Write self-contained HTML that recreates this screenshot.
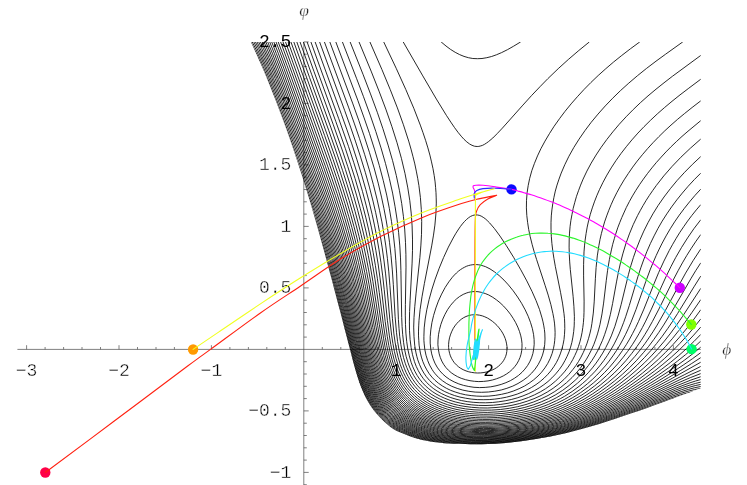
<!DOCTYPE html>
<html lang="en"><head><meta charset="utf-8"><title>plot</title><style>html,body{margin:0;padding:0;background:#fff;overflow:hidden;font-family:"Liberation Sans",sans-serif}svg{display:block;will-change:transform}</style></head><body><svg width="747" height="485" viewBox="0 0 747 485"><rect width="747" height="485" fill="#fff"/><path d="M17.4,349.4H700.8M303.8,41.9V485.0M26.6,349.4v-4.2M45.1,349.4v-2.4M63.6,349.4v-2.4M82.0,349.4v-2.4M100.5,349.4v-2.4M119.0,349.4v-4.2M137.5,349.4v-2.4M156.0,349.4v-2.4M174.4,349.4v-2.4M192.9,349.4v-2.4M211.4,349.4v-4.2M229.9,349.4v-2.4M248.4,349.4v-2.4M266.8,349.4v-2.4M285.3,349.4v-2.4M322.3,349.4v-2.4M340.8,349.4v-2.4M359.2,349.4v-2.4M377.7,349.4v-2.4M396.2,349.4v-4.2M414.7,349.4v-2.4M433.2,349.4v-2.4M451.6,349.4v-2.4M470.1,349.4v-2.4M488.6,349.4v-4.2M507.1,349.4v-2.4M525.6,349.4v-2.4M544.0,349.4v-2.4M562.5,349.4v-2.4M581.0,349.4v-4.2M599.5,349.4v-2.4M618.0,349.4v-2.4M636.4,349.4v-2.4M654.9,349.4v-2.4M673.4,349.4v-4.2M691.9,349.4v-2.4M303.8,484.7h3.0M303.8,472.4h4.9M303.8,460.1h3.0M303.8,447.8h3.0M303.8,435.5h3.0M303.8,423.2h3.0M303.8,410.9h4.9M303.8,398.6h3.0M303.8,386.3h3.0M303.8,374.0h3.0M303.8,361.7h3.0M303.8,337.1h3.0M303.8,324.8h3.0M303.8,312.5h3.0M303.8,300.2h3.0M303.8,287.9h4.9M303.8,275.6h3.0M303.8,263.3h3.0M303.8,251.0h3.0M303.8,238.7h3.0M303.8,226.4h4.9M303.8,214.1h3.0M303.8,201.8h3.0M303.8,189.5h3.0M303.8,177.2h3.0M303.8,164.9h4.9M303.8,152.6h3.0M303.8,140.3h3.0M303.8,128.0h3.0M303.8,115.7h3.0M303.8,103.4h4.9M303.8,91.1h3.0M303.8,78.8h3.0M303.8,66.5h3.0M303.8,54.2h3.0M303.8,41.9h4.9" fill="none" stroke="#4a4a4a" stroke-width="0.7"/><defs><clipPath id="cp"><path d="M250.9,41.9C253.0,46.5 259.2,60.1 263.3,69.8C267.3,79.4 271.5,89.8 275.4,99.8C279.2,109.8 283.0,119.8 286.6,129.8C290.1,139.8 293.5,149.8 296.8,159.8C300.1,169.8 303.3,179.8 306.4,189.8C309.5,199.8 312.4,209.8 315.3,219.8C318.2,229.8 320.9,239.8 323.7,249.8C326.4,259.8 329.1,269.8 331.8,279.8C334.4,289.8 337.3,300.7 339.7,309.8C342.1,319.0 344.5,328.3 346.2,334.8C347.9,341.4 348.6,343.9 350.0,349.2C351.4,354.6 352.8,360.7 354.6,367.0C356.4,373.3 358.4,380.9 360.9,387.1C363.3,393.3 366.3,399.1 369.4,404.1C372.5,409.0 375.6,412.7 379.3,416.7C383.1,420.7 387.6,425.1 391.7,428.0C395.9,430.9 400.1,432.4 404.2,434.1C408.4,435.9 412.4,437.4 416.6,438.6C420.7,439.8 423.4,440.4 429.0,441.2C434.6,442.0 442.3,443.1 449.9,443.6C457.6,444.1 466.3,444.3 475.0,444.2C483.7,444.1 492.2,444.0 502.0,443.2C511.9,442.4 523.6,440.9 534.3,439.2C545.0,437.5 555.8,435.4 566.5,432.9C577.2,430.4 587.8,427.4 598.5,424.2C609.2,421.0 620.0,417.3 630.7,413.6C641.4,410.0 651.2,406.5 662.9,402.2C674.6,398.0 694.5,390.6 700.8,388.2L700.8,41.9Z"/></clipPath></defs><path clip-path="url(#cp)" d="M474.4,314.7 471.6,314.9 468.8,315.5 466,316.5 463.6,317.7 461.2,319.3 458.8,321.4 456.8,323.5 454.9,325.9 453.1,328.7 451.6,331.8 450.4,334.9 449.5,337.9 448.9,341.1 448.6,344.3 448.6,347.5 449,350.7 449.6,353.4 450.4,355.9 451.5,358.3 452.9,360.7 454.4,362.8 456.4,364.9 458.4,366.7 460.7,368.3 463.2,369.7 466,370.9 468.8,371.8 471.6,372.4 474.4,372.8 477.6,373 480.8,372.9 484,372.5 486.8,371.9 489.2,371.2 491.7,370.3 494.2,369.1 496.4,367.8 498.4,366.3 500.2,364.7 502,362.7 503.5,360.7 504.6,358.7 505.7,356.3 506.4,353.9 506.8,351.5 507,349.1 507,346.7 506.6,343.9 506,341.1 505.2,338.5 504.1,335.9 502.7,333.1 500.9,330.3 499.1,327.9 497.1,325.5 494.8,323.3 492.4,321.3 490,319.6 487.6,318.1 484.8,316.8 482.4,315.9 479.6,315.2 476.8,314.8 474.4,314.7M470.8,291.9 468.8,292.3 466.8,292.9 463.2,294.4 459.6,296.5 456.4,299 453.2,302.2 450.4,305.6 447.6,309.6 445,314.3 442.8,319.1 440.9,324.3 439.5,329.5 438.5,334.7 438,339.9 437.9,344.7 438.4,349.5 439.2,353.9 440.3,357.5 441.8,361.1 443.6,364.3 445.9,367.5 448.4,370.2 451.2,372.7 454.1,374.7 457.6,376.7 461.2,378.3 465.6,379.7 470,380.7 474.4,381.3 478.8,381.6 483.6,381.4 488,380.9 492.4,380 496.4,378.8 499.9,377.5 503.3,375.9 506.7,373.9 509.6,371.8 512.4,369.3 514.7,366.7 516.8,363.9 518.6,360.7 520,357.5 521,354.3 521.7,350.7 522,347.1 522,343.5 521.6,339.9 520.8,335.9 519.5,331.5 517.8,327.1 515.7,322.7 513.2,318.4 510.4,314.2 507.2,310.1 503.6,306.1 500,302.7 496.4,299.8 492.8,297.3 488.8,295 485.2,293.5 481.6,292.4 478,291.7 474.4,291.5 470.8,291.9M441.1,41.9 446,46 450.4,49.3 455.2,52.3 459.6,54.6 464,56.4 468.4,57.7 472.8,58.5 477.6,58.7 482,58.5 486.8,57.7 491.6,56.5 496.4,54.8 501.6,52.6 507.6,49.6 513.6,46.2 520.7,41.9M472.8,264.7 470.4,265.1 468.4,265.6 466.4,266.3 464.4,267.3 462.4,268.4 460.4,269.7 458.4,271.2 456.4,273 454.4,275 452.4,277.2 448.8,281.9 445.2,287.4 441.6,294.1 438.4,301.1 435.9,307.9 433.6,315.4 431.9,322.7 430.8,329.9 430.2,336.7 430.2,343.1 430.8,349.2 431.7,353.9 433.1,358.7 434.9,363.1 437.1,367.1 439.7,370.7 442.6,373.9 446,376.9 449.7,379.5 454.1,381.9 458.8,383.9 463.6,385.4 468.8,386.5 474,387.3 479.6,387.6 485.2,387.4 490.8,386.8 496,385.8 501.2,384.4 505.9,382.7 510.3,380.7 514.4,378.3 518.4,375.5 522,372.3 524.9,369.1 527.6,365.5 529.7,361.9 531.5,357.9 532.9,353.5 533.7,349.1 534.2,344.3 534.1,339.5 533.6,334.7 532.4,328.7 530.6,322.7 528.2,316.3 525.2,309.9 521.6,303.3 517.6,297 513.2,290.8 508.4,284.9 504,280.1 499.2,275.6 494.4,271.8 490,268.9 485.6,266.7 483.2,265.9 481.2,265.3 478.8,264.8 476.8,264.6 474.8,264.6 472.8,264.7M403.2,41.9 422.8,75.9 436.4,99.1 446.4,115.4 450.8,122.1 454.4,127.4 458,132.3 461.2,136.2 464,139.3 466.8,141.9 469.6,144 472,145.3 474.4,146.2 476,146.4 477.2,146.5 478.8,146.4 480.8,145.9 482.4,145.4 484.4,144.4 486.4,143.1 488.4,141.7 492.8,138 497.2,133.6 502.4,128.1 522.2,105.9 531.6,95.5 540,86.7 547.8,78.7 558.2,68.7 568.3,59.5 578.8,50.5 589.4,41.9M474,215.1 472.4,215.6 470.4,216.5 468.4,217.9 466.4,219.6 464.4,221.6 462.4,223.9 460.4,226.5 458,230 455.6,233.8 453.2,238 448.4,247.1 443.6,257.5 439.2,268.2 435.2,279.1 432,289 429.1,299.5 426.8,309.7 425.2,319 424.2,327.9 423.9,336.3 423.9,340.3 424.2,343.9 424.8,349.5 426,355.2 427.6,360.3 429.6,365.1 432.1,369.5 433.6,371.8 435.2,373.8 438.6,377.5 442.4,380.7 446.8,383.7 451.8,386.3 457.2,388.4 462.8,390.1 468.8,391.3 475.2,392.1 481.6,392.3 488.4,392 494.8,391.2 501.2,390 506.9,388.3 512.8,386.1 518,383.5 523.2,380.3 527.6,377 531.6,373.2 535.1,369.1 538.1,364.7 540.6,359.9 542.5,355.1 543.9,349.9 544.7,344.7 545,339.1 544.8,333.1 544.4,329.5 543.8,325.9 543,321.9 542,317.9 539.5,309.5 536.1,300.7 532,291.4 526.8,280.9 520.8,269.8 513.6,257.3 506.4,245.7 500,236.1 494.4,228.5 489.6,222.9 487.2,220.5 485.2,218.7 483.2,217.3 481.2,216.1 479.2,215.3 477.6,215 475.6,214.9 474,215.1M383.7,41.9 396.2,68.3 405.8,89.5 413.8,108.3 420.3,125.1 423,132.7 425.7,140.7 427.9,147.9 429.9,155.1 431.5,161.9 433,168.7 434.2,175.5 435.1,181.9 435.6,187.5 436,192.7 436.2,197.9 436.3,203.1 435.9,213.9 434.9,225.1 433.5,235.1 431.7,245.9 424.4,283.4 422,296.8 420.1,309.5 419,320.3 418.7,325.9 418.5,331.1 418.5,335.9 418.8,340.7 419.1,345.1 419.7,349.1 420.4,353.1 421.4,357.1 422.8,361.5 424.7,365.9 426.8,369.9 429.2,373.7 431.9,377.1 435,380.3 438.4,383.2 442.3,385.9 446.4,388.3 450.6,390.3 455.2,392 460.4,393.6 465.6,394.8 471.2,395.6 476.8,396.1 482.4,396.3 488.8,396.1 495.2,395.4 501.6,394.3 507.6,392.9 513.2,391.1 519.1,388.7 524.4,386.1 529.2,383.1 533.6,379.9 538,376 541.6,372.2 544.9,367.9 547.7,363.5 550.1,358.7 552.1,353.5 553.5,348.3 554.2,344.7 554.7,340.7 555,336.7 555.1,332.3 554.9,327.9 554.5,323.1 553.8,318.3 552.9,313.5 550.9,304.7 548.2,295.1 545.2,285.7 536.6,259.5 534.2,251.9 532.2,244.7 530.2,236.7 528.7,229.5 527.6,222.3 526.8,215.5 526.4,207.9 526.5,200.3 527.1,192.7 528.2,185.5 529.7,178.3 531.8,170.7 534.4,163.5 537.5,155.9 540.9,148.7 545,141.1 549.5,133.5 554.1,126.3 559.5,118.7 564.9,111.5 571.1,103.9 577.4,96.7 584,89.5 590.8,82.6 598.2,75.5 605.8,68.7 613.6,62 621.7,55.5 630.4,48.8 639.8,41.9M369.9,41.9 381.9,69.5 390.2,89.5 397.4,107.9 403.4,124.7 408.7,141.1 411,149.1 413,156.7 414.8,163.9 416.3,171.1 417.7,178.3 418.9,185.5 420.4,197.5 421.3,209.5 421.7,221.5 421.5,234.3 420.9,245.1 419.9,257.5 416,293.9 414.8,306.3 414,317.5 413.7,327.1 414,336.7 414.7,345.1 415.3,349.1 416,352.9 416.8,356.3 417.8,359.9 419.6,364.7 421.6,369.1 423.9,373.1 426.4,376.7 429.4,380.3 432.7,383.5 436.4,386.5 440.4,389.2 444.8,391.6 449.6,393.7 454.4,395.5 460,397.1 465.6,398.2 471.2,399.1 477.2,399.6 483.2,399.7 489.2,399.6 494.8,399.1 500.6,398.3 506.4,397.2 512,395.7 517.2,394.1 522.4,392 527.2,389.8 531.6,387.4 536,384.6 540.2,381.5 544,378.2 547.5,374.7 550.8,370.9 553.8,366.7 556.3,362.7 558.5,358.3 560.3,353.9 561.9,349.1 563.1,344.3 564,339.5 564.5,334.3 564.8,328.7 564.7,323.1 564.5,318.7 564,313.7 562.5,303.1 560.6,292.7 555.3,266.3 553.9,258.3 552.8,251.1 551.9,243.5 551.3,236.3 551,229.1 551,222.3 551.3,215.9 551.9,209.9 552.8,203.5 553.9,197.5 555.3,191.1 557,185.1 559,179.1 561.2,173.1 564.8,164.7 568.9,156.3 573.8,147.5 579.1,139.1 584.9,130.7 591.2,122.3 598,114.1 605.3,105.9 612.6,98.3 620.4,90.7 628.8,83.1 637.6,75.6 646.4,68.5 656,61.2 665.6,54.2 682.8,41.9M359,41.9 371.1,71.1 379,91.1 385.8,109.1 391.8,126.3 397,142.7 401.4,158.3 405,173.5 407.8,187.9 409.8,200.7 411.2,213.1 412.1,225.9 412.5,239.1 412.5,250.7 412.1,263.1 410.1,300.3 409.6,311.5 409.4,321.9 409.5,330.7 410.1,339.5 411.1,347.5 412.5,354.7 414.4,361.5 416.2,366.3 418.3,370.7 420.8,375 423.4,378.7 426.5,382.3 429.7,385.5 433.2,388.4 437.2,391.1 441.4,393.5 446,395.7 450.8,397.6 456,399.2 461.6,400.6 467.2,401.6 473.2,402.3 479.2,402.7 485.6,402.8 492.4,402.5 498.8,401.8 505.2,400.8 511.3,399.5 517.2,397.9 523,395.9 528.8,393.5 534.4,390.7 539.2,387.9 543.9,384.7 548,381.5 551.9,377.9 555.7,373.9 559.3,369.5 562.4,365.1 564.9,360.7 567.1,356.3 569,351.9 570.6,347.1 571.9,342.3 572.9,337.1 573.7,331.5 574.2,325.9 574.3,321.5 574.4,316.7 573.9,306.3 573.1,296.3 570.3,269.5 569.7,261.9 569.3,254.7 569.1,247.1 569.2,239.9 569.5,233.1 570.1,226.3 570.9,220.3 572,214.3 573.2,208.3 574.8,202.3 576.5,196.3 578.5,190.7 580.6,185.1 583.1,179.1 586.9,171.1 591.2,163.1 596,155.1 601,147.5 606.8,139.5 612.8,131.9 619.2,124.3 626.2,116.7 633.2,109.6 640.4,102.7 648,95.9 656,89.2 664,82.8 672.4,76.3 700.8,55.4M350.1,41.9 363,74.3 370.5,93.9 377.3,112.3 382.9,128.7 388.1,145.1 392.6,160.7 396.3,175.5 399.4,190.3 401.7,203.5 403.4,216.3 404.7,229.1 405.5,242.7 405.9,254.3 406,267.1 405.4,304.3 405.3,315.1 405.5,324.7 405.9,333.1 406.7,341.5 407.8,349.1 409.3,355.9 411.1,362.3 412.8,366.8 414.8,371.2 417.2,375.5 419.6,379.1 422.4,382.6 425.5,385.9 428.8,388.8 432.3,391.5 436,393.9 440.4,396.3 444.8,398.3 450,400.3 455.2,401.9 460.3,403.1 465.6,404.1 471.2,404.8 478.4,405.4 486,405.5 493.6,405.2 500.8,404.4 508,403.3 515.2,401.7 521.6,399.9 528.4,397.5 534.4,394.9 540.3,391.9 545.6,388.7 550.8,385 555.5,381.1 560.1,376.7 564.4,371.9 568.1,367.1 570.5,363.5 572.8,359.5 574.8,355.5 576.8,351.1 578.4,346.7 579.9,341.9 581.1,337.1 582.1,332.3 582.8,327.5 583.4,322.7 583.8,317.5 584,312.3 584.1,301.1 583.6,275.9 583.6,264.3 584,251.9 584.5,245.9 585.1,240.3 586.1,233.5 587.2,227.1 588.6,220.7 590.3,214.3 592.3,207.9 594.4,201.9 596.8,195.7 599.5,189.5 603,182.3 606.9,175.1 611.2,167.9 615.9,160.7 621,153.5 626.3,146.7 631.9,139.9 637.9,133.1 644,126.7 650.5,120.3 657.3,113.9 664.6,107.5 672,101.3 680,94.9 688.8,88.2 700.8,79.2M342.4,41.9 356.5,78.3 363.5,96.7 370.2,115.1 375.8,131.5 381,147.9 385.5,163.5 389.4,178.7 392.6,193.1 395,206.3 397,219.1 398.6,232.3 399.8,245.9 400.5,257.9 400.9,270.3 401.7,317.5 402.1,326.7 402.7,334.7 403.6,342.7 404.7,349.9 406.2,356.7 408,362.7 409.6,367.1 411.6,371.5 413.7,375.5 416,379.1 418.4,382.4 421.2,385.7 424.3,388.7 427.6,391.5 431.2,394.2 435.2,396.6 439.2,398.7 443.6,400.7 448.4,402.5 453.2,404 458.4,405.3 464,406.3 471.6,407.3 479.6,407.9 487.6,408 496,407.5 504,406.7 512,405.3 519.7,403.5 527.2,401.2 534,398.7 541,395.5 547.2,392.1 553.1,388.3 558.8,384 563.9,379.5 568.6,374.7 572.9,369.5 575.9,365.5 578.5,361.5 581,357.1 583.2,352.7 585.3,347.9 587.1,343.1 588.6,338.3 590,333.1 591.1,328.3 591.9,323.5 593.3,313.1 594.2,301.9 595.4,278.3 596.1,267.5 597.3,255.9 598.9,245.5 600,239.5 601.4,233.5 603,227.5 604.6,221.9 606.7,215.9 608.8,210.3 611.1,204.7 613.6,199.1 616.8,192.7 620.3,186.3 624.1,179.9 628.3,173.5 632.7,167.1 637.2,161.1 642.4,154.7 647.6,148.6 653,142.7 658.8,136.7 664.8,130.8 671,125.1 677.6,119.3 684.6,113.5 692.1,107.5 700.8,100.8M335.8,41.9 357.8,100.3 364.1,117.9 369.5,133.5 374.7,149.9 379.3,165.5 383.3,180.7 386.7,195.1 389.3,208.3 391.5,221.5 393.4,235.1 394.9,248.7 395.8,260.3 396.6,273.1 398.4,319.5 399,328.3 399.7,336.3 400.8,344.3 402,351.1 403.5,357.5 405.2,363.2 406.8,367.6 408.7,371.9 410.7,375.9 412.8,379.4 415.1,382.7 417.7,385.9 420.8,389.1 423.9,391.9 427.2,394.5 430.8,397 434.5,399.1 438.8,401.3 443.1,403.1 447.6,404.7 452.8,406.3 457.8,407.5 465.6,408.9 474,409.8 482.8,410.2 491.6,410.1 500.4,409.5 509.3,408.3 517.6,406.7 526,404.5 533.8,401.9 541.2,398.8 548,395.5 554.8,391.5 560.8,387.3 566.5,382.7 572.1,377.5 577.2,371.9 580.5,367.9 583.6,363.5 586.5,359.1 589.2,354.3 591.6,349.5 593.9,344.3 595.8,339.1 597.5,333.9 598.8,329.1 600,324.3 602,313.9 603.6,303.1 606.3,280.3 607.6,270.3 609.4,259.5 611.4,249.9 612.7,244.3 614.3,238.7 616,233.1 617.7,227.9 619.7,222.7 621.8,217.5 626.3,207.5 629.4,201.5 632.5,195.9 635.9,190.3 639.5,184.7 643.4,179.1 647.5,173.5 651.9,167.9 656.2,162.7 661.2,157.1 666,151.9 671.1,146.7 676.4,141.6 682,136.4 688,131.2 700.8,120.6M329.8,41.9 352.6,103.1 358.9,120.7 364.1,135.9 369.4,152.3 374.1,167.9 378.2,183.1 381.5,197.1 383.9,208.3 386.1,219.9 387.9,230.7 389.5,242.3 391,255.5 392.3,269.9 393.3,284.3 395.1,316.7 396.5,332.7 397.6,341.6 399,349.9 400.8,357.5 402.7,363.9 404.3,368.3 406,372.3 408,376.3 410,379.7 412.3,383.1 414.8,386.3 417.6,389.5 420.4,392.2 423.4,394.7 426.8,397.2 430.4,399.5 434.4,401.7 438.4,403.6 442.8,405.4 447.2,406.9 452,408.3 456,409.3 460.4,410.2 469.2,411.5 478.4,412.2 487.6,412.4 497.2,411.9 506.4,411 515.6,409.5 524.8,407.4 533.2,404.9 541.2,401.9 548.4,398.7 555.8,394.7 562.7,390.3 569.1,385.5 575.1,380.3 578,377.5 581.1,374.3 584.9,369.9 588.4,365.5 591.8,360.7 594.8,355.9 597.5,351.1 600,345.9 602.5,340.3 604.6,334.7 606.2,329.9 607.7,325.1 610.4,314.3 612.6,303.5 616.5,281.9 618.3,272.7 620.5,262.7 622.8,253.9 625.8,243.9 629.4,233.9 633.2,224.7 637.6,215.5 640.4,210.3 643.1,205.5 646.2,200.3 649.3,195.5 652.8,190.4 656.3,185.5 663.8,175.9 672,166.5 680.8,157.3 690.4,148.2 700.8,139.0M324.4,41.9 348.5,107.1 354.2,123.1 359.4,138.3 364.6,154.3 369.3,169.9 373.4,184.7 377,199.1 379.5,210.3 381.9,221.9 383.9,233.5 385.7,245.1 387.4,258.3 388.8,271.9 389.9,285.5 392.4,318.3 393.9,333.9 395.2,342.9 396.6,350.7 398.3,357.9 400.2,364.3 401.8,368.7 403.5,372.7 405.3,376.3 407.3,379.9 409.6,383.5 412,386.7 414.4,389.5 417.2,392.4 420.3,395.1 423.3,397.5 426.8,399.9 430.4,402 434,403.9 438.3,405.9 442.4,407.5 447.2,409.1 451.5,410.3 455.6,411.3 460,412.2 464.4,412.9 469.2,413.5 474,413.9 483.6,414.3 493.6,414.1 504,413.3 514,411.9 523.6,410 532.8,407.5 541.1,404.7 548.8,401.5 553,399.5 556.8,397.5 564.2,393.1 571.1,388.3 577.6,383.1 580.7,380.3 584.1,377.1 588.3,372.7 592.4,367.9 596.1,363.1 599.4,358.3 602.7,353.1 605.8,347.5 608.6,341.9 611.3,335.9 613.1,331.1 614.9,326.3 618.3,315.1 621.2,304.3 628.4,274.7 630.8,265.9 633.4,257.5 636.6,248.3 640.1,239.5 643.8,231.1 648,222.7 652.9,213.9 658.1,205.5 664,197 670.4,188.6 677.2,180.4 684.6,172.3 692.4,164.4 700.8,156.5M319.6,41.9 344.6,110.3 350.6,127.1 355.4,141.1 360.6,157.1 365.4,172.7 369.4,187.1 373,201.1 375.7,212.7 378.1,224.3 380.2,235.5 382.1,247.1 383.9,259.9 385.6,273.9 387,287.9 389.8,319.1 391.6,335.1 392.9,343.5 394.4,351.5 396,358.3 398,364.9 399.5,369.1 401.2,373.1 402.9,376.7 404.9,380.3 406.9,383.5 409.2,386.7 411.8,389.9 414.4,392.7 417.4,395.5 420.4,398 423.6,400.3 427.2,402.6 430.8,404.6 434.4,406.4 438.4,408.1 442.8,409.7 447.1,411.1 451.2,412.2 455.6,413.2 460,414.1 464.8,414.8 469.6,415.4 479.6,416 490,416.1 495.2,415.9 500.8,415.5 511.2,414.3 521.2,412.6 530.8,410.4 539.6,407.7 544,406.1 548.4,404.4 556.4,400.7 560.3,398.7 564.6,396.3 572.1,391.5 579.1,386.3 582.5,383.5 586.2,380.3 590.7,375.9 595.3,371.1 599.7,365.9 603.7,360.7 607.3,355.5 610.8,349.9 614.2,343.9 617.2,337.9 619.4,333.1 621.5,327.9 623.7,322.3 625.8,316.3 629.3,305.5 638,276.3 640.8,267.8 643.6,260 646.9,251.5 650.4,243.5 654.1,235.9 658,228.4 662.2,221.1 666.8,213.9 671.6,206.9 676.8,199.9 682.3,193.1 688.1,186.3 694.4,179.5 700.8,173.1M315.1,41.9 341.4,114.3 347,129.9 351.8,143.9 357,159.9 361.7,175.1 365.8,189.5 369.4,203.1 372.2,214.7 374.6,225.9 376.9,237.5 378.9,249.1 380.9,262.3 382.7,275.9 384.2,289.5 387.4,320.3 389.4,335.9 390.8,344.7 392.3,352.3 394,359.1 395.9,365.5 397.5,369.9 399.2,373.9 400.9,377.5 402.8,380.9 404.9,384.3 407.2,387.5 409.4,390.3 411.9,393.1 414.8,395.9 417.5,398.3 420.7,400.7 424,402.9 427.6,405.1 431.2,407 434.9,408.7 438.8,410.3 442.8,411.7 447.2,413 451.6,414.1 456,415.1 460.8,416 465.6,416.6 470.4,417.2 475.6,417.6 480.8,417.8 486.4,417.9 497.4,417.5 508.4,416.5 513.6,415.8 519.2,414.9 529.2,412.8 538.3,410.3 543.3,408.7 547.7,407.1 556.3,403.5 564.3,399.5 568.5,397.1 572.5,394.7 580.1,389.5 583.8,386.7 587.7,383.5 592.3,379.5 596.8,375.1 601,370.7 605.3,365.9 609.1,361.1 612.9,355.9 616.4,350.7 619.8,345.1 622.7,339.9 625.6,334.3 628.4,328.3 631,322.3 636,309.5 645.8,281.5 650.4,269.1 653.4,261.9 656.2,255.5 659.2,249.1 662.2,243.1 666.1,235.9 670.3,228.7 674.6,221.9 679.3,215.1 684.4,208.3 689.5,201.9 694.9,195.5 700.8,189.1M310.9,41.9 319.2,65 338.6,118.3 348.6,146.7 353.8,162.7 358.3,177.1 362.5,191.5 366.1,205.1 369,216.7 371.5,227.9 373.8,239.1 375.9,250.7 378.1,263.9 379.9,277.1 381.7,291.1 385.2,321.5 387.3,336.7 388.8,345.5 390.3,352.7 392,359.5 393.9,365.9 395.4,369.9 396.8,373.5 398.5,377.1 400.4,380.8 402.4,384.1 404.4,387.1 406.8,390.3 409.2,393.1 411.9,395.9 414.5,398.3 417.6,400.8 420.8,403.1 424,405.1 427.4,407.1 431.2,409 434.8,410.6 438.8,412.1 442.8,413.5 447.2,414.8 452,416 456.8,417 461.6,417.8 466.4,418.4 471.6,418.9 476.8,419.2 482.4,419.4 488,419.4 493.6,419.3 499.2,419 505.2,418.5 510.8,417.9 516.4,417.1 526.8,415.2 536.8,412.8 546,409.9 550.4,408.3 555.2,406.4 560,404.3 564.1,402.3 572.2,397.9 576.2,395.5 580.5,392.7 588.2,387.1 593.7,382.7 599.1,377.9 604.4,372.7 609.3,367.5 614,361.9 618.4,356.3 622.6,350.3 626.5,344.3 629.6,339.1 632.6,333.5 635.7,327.5 638.5,321.5 643.9,309.1 654,283.8 658.6,272.7 663.9,261.1 669.2,250.6 672.7,244.3 676.2,238.3 679.9,232.3 683.7,226.7 687.6,221.1 691.8,215.5 696.3,209.9 700.8,204.6M307.1,41.9 316.4,68 335.8,121.5 345.4,148.7 350.5,164.3 355.1,178.7 359.3,193.1 363,206.7 365.9,217.9 368.7,229.9 371,241.1 373.2,252.7 375.4,265.5 377.4,278.7 379.3,292.7 383.2,323.1 385.3,337.5 386.8,345.7 388.4,353.2 390.1,359.9 392.1,366.3 393.6,370.6 395.1,374.3 396.8,378 398.6,381.5 400.5,384.7 402.6,387.9 404.8,390.8 407,393.5 409.6,396.2 412,398.5 414.8,400.9 417.6,403.1 420.8,405.3 424,407.2 427.5,409.1 431.2,410.9 435.2,412.6 439.2,414.1 443.6,415.5 448.1,416.7 452.8,417.8 457.5,418.7 462.7,419.5 467.6,420.1 472.8,420.5 478.4,420.8 489.6,420.9 495.6,420.7 501.2,420.4 507,419.9 512.8,419.2 523.2,417.6 533.3,415.5 538.4,414.2 543.5,412.7 552.9,409.5 557.9,407.5 562.5,405.5 566.8,403.5 571.4,401.1 579.7,396.3 584.1,393.5 588.2,390.7 594.6,385.9 600.4,381.1 606.6,375.5 612.2,369.9 617.7,363.9 622.7,357.9 627.6,351.5 632.3,344.7 635.8,339.1 639.1,333.5 642.4,327.5 645.7,321.1 651.4,309.1 661.8,285.9 666.2,276.3 671.1,266.3 675.7,257.5 681.5,247.5 687.6,237.9 693.9,228.7 700.8,219.7M303.4,41.9 314,71.5 333.3,124.7 342.6,151.1 347.8,166.7 352.2,180.7 356.5,195.1 360.2,208.3 363.1,219.5 365.9,231.1 368.3,242.3 370.6,253.9 372.9,266.7 375.1,279.9 381.2,323.7 383.6,338.7 385.1,347.1 386.7,354.3 388.4,360.7 390.4,367.1 393.3,374.7 394.9,378.3 396.8,381.9 398.6,385.1 400.4,387.9 402.4,390.7 404.8,393.6 407.2,396.3 409.6,398.7 412.3,401.1 415.2,403.4 418.1,405.5 421.2,407.5 424.7,409.5 428,411.2 432,413 436.2,414.7 440.4,416.1 444.8,417.4 449.2,418.6 453.6,419.5 458.4,420.4 463.6,421.1 468.8,421.7 474.4,422.1 480,422.3 485.6,422.4 497.2,422.1 508.8,421.2 519.6,419.8 530.4,417.8 540.8,415.3 550.6,412.3 555.2,410.6 560.2,408.7 569.1,404.7 573.9,402.3 578.3,399.9 586.9,394.7 593.9,389.9 600.8,384.7 607.5,379.1 614.1,373.1 620.4,366.7 626.2,360.3 631.7,353.5 637.1,346.3 641,340.7 644.8,334.7 648.6,328.3 652.4,321.5 658.9,309.1 673.7,279.1 678.1,270.7 682.4,262.9 686.8,255.4 691.3,248.3 696,241.2 700.8,234.5M300,41.9 311.6,74.3 331,127.9 340.1,153.9 345.4,169.5 349.8,183.5 353.8,196.7 357.7,210.3 360.6,221.5 363.4,233.1 365.9,243.9 368.3,255.5 370.6,267.9 372.9,281.5 379.3,324.3 381.8,339.5 383.5,347.9 385.1,355.1 386.8,361.5 388.7,367.5 391.6,375.1 393.2,378.6 394.8,381.9 396.6,385.1 398.6,388.3 400.6,391.1 402.8,393.9 405.2,396.7 407.6,399.1 410.2,401.5 412.8,403.7 415.8,405.9 418.7,407.9 422,409.9 425,411.5 428.8,413.3 432.8,415 436.8,416.5 441,417.9 445.2,419.1 450,420.2 454.8,421.2 459.6,422 464.8,422.7 470,423.2 480.8,423.7 492.4,423.7 504,423 515.2,421.9 526.4,420.1 536.9,417.9 547.4,415.1 557,411.9 562.2,409.9 566.9,407.9 576.2,403.5 584.9,398.7 592.6,393.9 600.1,388.7 607.9,382.7 615,376.7 621.9,370.3 628.5,363.5 635,356.3 640.8,349.1 645,343.5 648.9,337.9 652.9,331.9 657.1,325.1 664.6,311.9 679,285.1 685.6,273.1 693.2,260.5 700.8,248.9M296.8,41.9 309.6,77.6 328.7,130.3 337.4,155.1 342.5,170.3 347,184.3 351.3,198.3 355.1,211.5 358.2,223.1 361,234.3 363.7,245.9 366.1,257.1 368.6,269.9 370.9,283.1 377.6,325.4 380.1,339.9 381.8,348.3 383.5,355.5 385.2,361.9 387.1,367.9 390,375.5 393.2,382.3 395,385.5 396.8,388.5 398.8,391.4 400.8,394.1 403,396.7 405.3,399.1 407.7,401.5 410.4,403.8 413.1,405.9 415.9,407.9 419,409.9 422,411.6 425.6,413.5 429.2,415.2 433.2,416.8 437.5,418.3 441.6,419.6 446,420.8 450.8,421.8 455.4,422.7 465.2,424 470.4,424.5 476,424.8 487.2,425 498.8,424.7 510.4,423.7 521.7,422.3 532.8,420.3 543.2,417.9 552.8,415.1 557.6,413.5 562.9,411.5 572.4,407.5 577.4,405.1 582.1,402.7 590.6,397.9 598.8,392.7 606.7,387.1 614.4,381.1 622.4,374.3 629.7,367.5 636.7,360.3 643.4,352.7 648.7,346.3 653.8,339.5 658.6,332.7 663.6,325.1 671.9,311.5 690.8,278.8 695.7,270.7 700.8,262.8M293.8,41.9 326.6,133.1 335.4,157.9 340.5,173.1 345,187.1 349.1,200.3 352.9,213.5 356.1,225.1 359,236.3 361.7,247.9 364.1,259.1 366.6,271.5 369,284.3 376,326.5 378.6,340.7 380.2,348.7 381.9,355.9 383.7,362.3 385.6,368.3 388.5,375.9 391.6,382.6 395.1,388.7 396.9,391.5 399,394.3 403.2,399.2 405.6,401.6 408.1,403.9 410.8,406.1 413.6,408.2 419.4,411.9 422.8,413.7 426.4,415.5 430.1,417.1 434.3,418.7 438.4,420.1 442.8,421.3 447.2,422.4 451.6,423.4 456.4,424.2 461.2,424.9 471.6,425.8 482.4,426.3 493.6,426.1 505.2,425.5 516.8,424.3 528,422.6 539.3,420.3 550,417.5 560,414.3 569.4,410.7 579.2,406.3 587.8,401.9 596.1,397.1 604.8,391.5 613.2,385.5 621.4,379.1 629.4,372.3 637.1,365.1 644.5,357.5 650.7,350.7 656.6,343.5 662.2,336.3 667.9,328.3 672.5,321.5 677.6,313.5 694,286.8 700.8,276.0M290.9,41.9 324.6,135.5 333.1,159.5 338.2,174.7 342.7,188.3 346.9,201.9 350.7,214.7 353.9,226.3 356.9,237.9 359.7,249.5 362.2,260.3 364.7,272.3 367.1,285.1 374.4,327.2 377.2,341.9 378.8,349.4 380.5,356.3 382.2,362.7 384.1,368.7 386.8,375.9 390,382.8 393.5,389.1 395.4,391.9 397.4,394.7 401.6,399.7 404,402.2 406.3,404.3 408.8,406.4 411.6,408.5 417.2,412.2 420.4,414.1 424,415.9 427.6,417.5 431.6,419.1 436,420.7 439.9,421.9 448.4,424 457.6,425.6 467.2,426.7 477.6,427.3 488.8,427.4 500.4,427 512.4,426 524,424.5 535.2,422.5 546,420 556.3,417.1 565.7,413.9 575.6,409.9 584.2,405.9 593.3,401.1 602.1,395.9 611.3,389.9 619.7,383.9 628.4,377.1 636.8,369.9 644.6,362.7 651.3,355.9 657.9,348.7 664.4,341.1 670.7,333.1 676.5,325.1 682.6,316.3 700.8,288.3M288.1,41.9 322.2,136.3 331.1,161.5 336.1,176.3 340.6,189.9 344.9,203.5 348.7,216.3 351.9,227.5 354.9,239.1 357.7,250.3 360.2,261.1 362.9,273.9 365.4,286.3 372.8,327.5 375.6,341.9 377.4,349.9 379.2,357.1 380.9,363.5 382.8,369.3 385.6,376.7 388.5,383.1 391.8,389.1 395.6,394.7 399.6,399.7 404.2,404.3 409.2,408.5 414.8,412.4 418,414.3 421.6,416.2 425.1,417.9 428.8,419.5 432.8,421 436.8,422.3 444.8,424.5 453.6,426.2 463,427.5 473.2,428.3 483.6,428.6 495.2,428.4 507.2,427.6 519.2,426.3 530.4,424.7 541.2,422.5 551.7,419.9 562.2,416.7 572,413.1 581.4,409.1 590.5,404.7 599.4,399.9 608.7,394.3 617.8,388.3 626.7,381.9 635.4,375.1 643.9,367.9 651.3,361.1 658.6,353.9 665.7,346.3 672.3,338.7 678.7,330.7 685,322.3 691.8,312.7 700.8,299.6M285.5,41.9 320.1,137.9 329.1,163.1 334.2,177.9 338.7,191.5 343,205.1 346.7,217.5 349.9,228.7 353,240.3 355.9,251.5 358.5,262.7 361.3,275.5 363.8,287.9 371.6,329.4 374.4,343.1 376.1,350.7 377.9,357.9 379.6,363.9 381.5,369.9 384.3,377.1 387.2,383.6 390.4,389.5 394.1,395.1 398,400 402.6,404.7 407.6,409 412.8,412.7 416,414.7 419.2,416.5 422.8,418.3 426.4,419.9 433.9,422.7 442,425 450.4,426.9 459.6,428.3 469.2,429.2 479.2,429.6 490.8,429.6 502.8,429 515.2,427.9 526.8,426.4 538.4,424.3 548.8,422 559.1,419.1 568.7,415.9 578,412.3 587,408.3 595.9,403.9 605.3,398.7 614.6,393.1 624.2,386.7 633.7,379.9 642.5,373.1 650.6,366.3 658.2,359.5 665.6,352.3 672.9,344.7 679.6,337.1 686.2,329.1 693.1,320.3 700.8,309.7M283,41.9 290.6,62.7 327.3,165.1 337,193.5 341.1,206.3 345,219.1 348.2,230.3 351.4,241.9 354.2,253.1 356.9,264.3 359.7,276.7 362.2,288.7 370,329.1 373.1,343.9 374.8,351.2 376.6,358.3 378.4,364.5 380.3,370.3 383,377.5 386,384.2 389.2,390.1 392.8,395.6 396.8,400.6 401.2,405.3 406,409.5 411.2,413.2 414.1,415.1 417.6,417.1 424.2,420.3 431.4,423.1 439.2,425.5 447.6,427.5 456,428.9 465.2,429.9 475.2,430.5 486.4,430.7 498.2,430.3 510,429.5 522,428.1 533.6,426.4 544,424.3 554.4,421.7 564.6,418.7 573.8,415.5 582.8,411.9 591.6,407.9 601.1,403.1 610.5,397.9 620.4,391.9 630.1,385.5 639.1,379.1 648.1,372.3 656.5,365.5 664.7,358.3 672.4,351.1 679.8,343.5 686.8,335.9 693.6,327.9 700.8,318.9M280.6,41.9 289,64.7 325.4,166.3 335.4,195.5 339.5,208.3 343.3,220.7 346.6,231.9 349.8,243.5 352.6,254.3 355.4,265.5 358.1,277.5 360.7,289.5 368.8,330.1 371.9,344.7 373.7,352.3 375.6,359.5 377.3,365.5 379.2,371.1 381.9,378.3 384.8,384.7 388.1,390.7 391.7,396.3 395.6,401.3 400,405.9 404.5,409.9 409.6,413.7 415.6,417.4 422.2,420.7 429.2,423.6 436.8,426 444.8,428 453.2,429.6 462.2,430.7 471.6,431.4 482.8,431.7 494.4,431.4 506.8,430.7 518.4,429.6 529.6,428.1 540.4,426.2 550.7,423.9 561.2,421.1 570.8,418 579.6,414.7 588.3,411.1 597.7,406.7 607,401.9 616.3,396.7 626.2,390.7 636,384.3 645.2,377.9 654.4,371.1 662.9,364.3 671.4,357.1 679.3,349.9 686.6,342.7 693.7,335.1 700.8,327.0M278.2,41.9 287,65.5 323.8,167.9 333.8,197.1 337.9,209.9 341.7,222.3 348.2,244.7 353.8,266.3 356.6,278.3 359.4,291.1 367.6,331.1 370.7,345.5 372.6,353.1 374.4,359.9 376.2,365.9 378,371.5 380.7,378.7 383.6,385.1 386.8,391.1 390.4,396.6 394.1,401.5 398.4,406.1 403,410.3 408,414.1 414,417.9 420.4,421.2 427.6,424.2 434.8,426.6 442.7,428.7 450.8,430.3 459.6,431.4 468.8,432.2 479.6,432.6 490.8,432.5 502.8,431.9 514.8,430.9 526.4,429.5 536.8,427.9 547.6,425.7 558.2,423.1 567.6,420.3 576,417.5 585.2,413.9 594.5,409.9 603.6,405.5 612.8,400.7 622.1,395.5 632,389.5 642,383.1 651.9,376.3 661.3,369.5 670.6,362.3 678.8,355.5 686.4,348.7 693.9,341.5 700.8,334.4M276,41.9 280.3,53.1 285.4,67.1 322.2,169.5 332.2,198.7 340.2,223.5 346.6,245.5 352.2,267.1 355,278.7 357.9,291.5 366.4,331.8 369.6,346.1 373.2,360.1 375,366.3 376.9,371.9 379.6,379.1 382.7,385.9 385.9,391.9 389.2,397.1 393.2,402.3 397.2,406.7 401.6,410.7 406.8,414.7 412.4,418.3 418.8,421.7 425.6,424.6 432.8,427.2 440.4,429.2 448.4,430.9 456.8,432.1 465.6,433 476,433.4 487.2,433.5 498.8,433.1 510.8,432.2 522,431.1 533.2,429.5 544.1,427.5 554.8,425.1 563.6,422.7 572.6,419.9 581.6,416.7 589.7,413.5 598.8,409.5 607.9,405.1 617.1,400.3 627.1,394.7 637.2,388.7 648,381.9 658.3,375.1 668.5,367.9 677.5,361.1 685.5,354.7 693.4,347.9 700.8,341.0M273.8,41.9 278.2,53.1 283.8,68.3 320.6,170.7 330.6,199.9 338.6,224.7 345.1,246.7 351,268.7 356.7,292.7 365.2,332.3 368.4,346.3 372.1,360.7 374,366.9 375.9,372.7 378.7,379.9 381.6,386.4 384.8,392.4 388.3,397.9 392,402.7 396,407.1 400.4,411.2 405.3,415.1 410.8,418.7 417.2,422.2 423.8,425.1 430.8,427.6 438.4,429.8 446.2,431.5 454.4,432.8 463.2,433.7 473.6,434.3 484.4,434.4 496,434.1 508,433.3 519.6,432.2 531.2,430.7 542,428.9 552.3,426.7 560.4,424.7 568.8,422.3 577.4,419.5 586.1,416.3 594.9,412.7 603.8,408.7 612.9,404.3 622.1,399.5 632.9,393.5 643.9,387.1 654.9,380.3 666,373.1 675.9,366.3 684.8,359.9 693.1,353.5 700.8,347.1M271.7,41.9 276.3,53.5 281.8,68.3 318.6,170.7 329,200.7 337.1,225.5 343.7,247.9 349.5,269.1 352.6,281.5 355.4,293.5 364.4,334.3 367.5,347.5 371.2,361.5 373,367.5 374.9,373.1 377.6,380.3 380.7,387.1 383.9,393.1 387.2,398.3 390.8,403.1 394.8,407.6 399.2,411.7 404,415.5 409.6,419.3 415.8,422.7 422.4,425.7 429.2,428.2 436.4,430.3 444,432.1 452.4,433.5 460.8,434.4 470.8,435 481.6,435.2 492.8,435 504.8,434.4 516.4,433.4 528,432 539.2,430.3 549.5,428.3 558.1,426.3 566.8,424 574.8,421.5 583,418.7 591.4,415.5 600,411.9 607.9,408.3 617,403.9 627.8,398.3 638.8,392.3 650.6,385.5 662,378.7 672.8,371.9 683.2,365.1 692.5,358.7 700.8,352.6M269.7,41.9 274.5,53.9 280.2,69.1 317,171.5 327.4,201.5 335.8,227.1 342.3,248.7 348.3,270.3 354.3,294.7 363.2,334.3 366.4,347.8 370.3,362.3 372,367.9 374,373.8 376.8,381.1 379.7,387.5 382.9,393.5 386.4,399.1 390,403.9 394,408.4 398.4,412.5 403.2,416.3 408.6,419.9 414.4,423.2 420.8,426.1 427.6,428.7 434.8,430.9 442.3,432.7 450.4,434.1 458.7,435.1 468,435.8 478.4,436.1 489.6,435.9 501.2,435.4 512.8,434.6 524.4,433.3 535.2,431.8 546.1,429.9 555.2,428 563.2,426 571.2,423.7 579.2,421.2 587.3,418.3 595.5,415.1 604,411.5 612,407.9 621.9,403.1 632.1,397.9 643.3,391.9 655.5,385.1 668.7,377.5 680.8,370.3 691.7,363.5 700.8,357.6M267.7,41.9 272.6,53.9 278.6,69.9 315.4,172.3 326.2,203.1 334.5,228.3 341.1,249.9 347.1,271.5 353.1,295.5 362.4,335.9 365.6,349.1 369.4,363.1 371.2,368.8 373.2,374.7 376,381.9 378.9,388.3 382,394.2 385.4,399.5 388.9,404.3 392.8,408.7 397.2,412.9 401.9,416.7 407.2,420.3 413.2,423.7 419.5,426.7 426.4,429.4 433.3,431.5 440.8,433.3 448.4,434.7 456.8,435.8 466.4,436.5 476.4,436.8 487.2,436.8 498.8,436.3 510.8,435.5 522,434.4 532.8,433 543.6,431.2 551.6,429.6 559.3,427.9 567,425.9 575.2,423.5 582.6,421.1 590.4,418.3 598.6,415.1 607.1,411.5 615.1,407.9 624.3,403.5 634,398.7 644.8,393.1 672.2,378.3 700.8,362.2M265.8,41.9 268.9,49.1 272.2,57.5 280.6,80.3 296,123.4 319.8,189.5 327.1,210.7 333.4,229.9 340.1,251.9 346.1,273.1 352.2,297.1 361.2,335.6 364.6,349.5 368.4,363.3 370.3,369.5 372.3,375.1 375,382.3 378,388.8 381.1,394.7 384.4,400 388,404.9 392,409.4 396.2,413.5 400.8,417.2 406,420.8 412,424.2 418,427.1 424.8,429.8 431.6,432 439.2,433.9 446.4,435.3 454.4,436.4 463.2,437.1 473.2,437.6 483.6,437.6 494.8,437.3 506.4,436.6 518.4,435.6 529.2,434.3 540.4,432.6 548.6,431.1 556.2,429.5 564.5,427.5 571.8,425.5 579.7,423.1 587.9,420.3 595.5,417.5 603.5,414.3 618.2,407.9 634.9,399.9 649.3,392.7 684.8,374.5 700.8,366.4M264,41.9 267.1,49.1 270.6,57.9 278.6,79.5 295.6,127.1 318.6,191.1 325.8,211.9 332.2,231.1 339,253.1 345,274.3 351,297.5 360.4,336.9 363.7,349.9 367.6,364.1 369.6,370.4 371.5,375.9 374.3,383.1 377.2,389.5 380.4,395.5 383.6,400.7 387.2,405.5 391.2,410.1 395.6,414.3 400,417.9 405.2,421.5 410.8,424.7 417.2,427.8 423.6,430.4 430.4,432.6 437.6,434.5 445.2,435.9 453.2,437.1 462,437.9 471.6,438.3 482,438.4 492.8,438.1 504,437.5 516,436.5 527.6,435.2 538.4,433.7 546.5,432.3 554.5,430.7 561.5,429.1 569.3,427.1 576.3,425.1 583.9,422.7 592,419.9 599.4,417.1 612.1,411.9 626.4,405.5 640.8,398.7 680,379.6 691.2,374.4 700.8,370.2M262.2,41.9 265.3,49.1 268.6,57.1 272.3,66.7 276.6,78.3 295.2,130.7 318.1,194.3 324.9,213.9 330.9,231.9 337.8,253.9 343.8,274.7 350.2,299.1 359.6,338 362.8,350.6 366.8,364.8 368.8,371.1 370.6,376.3 373.4,383.5 376.4,390.1 379.5,395.9 382.7,401.1 386.2,405.9 390,410.3 394,414.3 398.8,418.3 404,421.9 409.6,425.2 415.9,428.3 422.4,430.9 429.2,433.2 436.4,435.1 443.6,436.5 451.2,437.6 460,438.5 469.2,439 479.2,439.1 490,438.9 501.6,438.3 513.2,437.5 524.7,436.3 536,434.8 544.1,433.5 551.6,432.1 559.2,430.5 566.5,428.7 573.9,426.7 581.9,424.3 589.2,421.9 597,419.1 608.3,414.7 620.5,409.5 634.7,403.1 665.2,388.8 677.2,383.3 690.4,377.6 700.8,373.6M260.4,41.9 263.5,48.7 267,57.1 270.7,66.7 275,78.3 294.8,134 317.4,196.7 324.2,216.3 329.8,233.1 336.6,254.7 342.7,275.5 349.1,299.5 358.8,338.9 362,351.3 366,365.4 368,371.6 369.9,377.1 372.7,384.3 375.6,390.7 378.8,396.7 382,401.9 385.5,406.7 389.3,411.1 393.6,415.3 398.3,419.1 403.4,422.7 408.9,425.9 414.8,428.8 421.4,431.5 428,433.7 434.8,435.6 442.2,437.1 450,438.3 458.1,439.1 467.2,439.6 477.2,439.8 487.6,439.7 499.6,439.1 511.2,438.3 522.4,437.2 533.3,435.9 541.2,434.7 550,433.2 558,431.5 565,429.9 572.7,427.9 579.7,425.9 587.3,423.5 594.3,421.1 607.1,416.3 620.6,410.7 634.3,404.7 664.8,390.9 678.8,384.9 690.8,380.1 700.8,376.7M258.7,41.9 261.8,48.7 265.4,57.1 269.1,66.7 273.4,78.3 294,136.2 317,199.9 323.4,218.3 328.7,233.9 335.4,255.1 341.8,276.7 348.2,300.7 358,339.7 361.2,352 365.2,365.9 367.2,372.1 369.2,377.8 372,384.9 374.8,391.1 377.9,397.1 381.2,402.4 384.6,407.1 388.4,411.5 392.4,415.5 397.2,419.5 402.3,423.1 408,426.5 414.1,429.5 420.4,432.1 426.9,434.3 434,436.2 441.2,437.7 448.8,438.9 457.2,439.8 466,440.3 475.6,440.5 486,440.4 497.6,439.9 509.2,439.1 520.8,438.1 531.6,436.8 539.6,435.7 547.2,434.4 554,433.1 561.6,431.5 568.2,429.9 575.7,427.9 583.8,425.5 591.2,423.1 603.5,418.7 617.7,413.1 630.9,407.5 662.4,393.7 676.8,387.8 684,385 690,382.8 695.6,381 700.8,379.5M257,41.9 260.2,48.7 263.8,57.1 267.5,66.3 271.8,77.9 293.6,139.3 316.6,203.1 322.5,219.9 327.8,235.5 334.6,256.7 341,278.3 347.4,301.9 357.2,340.4 360.4,352.7 364.4,366.3 366.4,372.5 368.4,378.2 371.2,385.3 374.2,391.9 377.2,397.7 380.5,403.1 384,407.9 387.8,412.3 391.8,416.3 396.4,420.1 401.6,423.8 407.2,427.1 413.2,430.1 419.6,432.7 426,434.9 432.8,436.8 439.9,438.3 447.5,439.5 455.2,440.3 464,440.9 473.2,441.1 483.6,441.1 494.8,440.7 506.8,439.9 518,439 529.2,437.8 537,436.7 544.7,435.5 552,434.2 559.6,432.6 566.4,431.1 574.2,429.1 581.3,427.1 589,424.7 601.8,420.3 616.4,414.7 630,409.1 660.4,396.2 675.6,390.1 682.8,387.4 689.2,385.3 695.6,383.4 700.8,382.1M255.4,41.9 258.7,48.7 262.1,56.7 265.8,65.9 270.2,77.5 292.8,141.2 316.2,205.9 326.6,235.9 333.8,258.3 340.1,279.5 346.5,302.7 356.4,341 360,354.3 364,367.9 367.7,378.7 370.4,385.7 373.4,392.3 376.4,398.1 379.7,403.5 383.1,408.3 386.9,412.7 391.2,417 395.6,420.7 400.7,424.3 406.1,427.5 412,430.5 418.2,433.1 424.8,435.4 431.6,437.3 438.4,438.8 446,440 454,440.9 462.4,441.5 471.6,441.8 481.6,441.7 492.8,441.4 504.8,440.7 516,439.8 527.2,438.6 535.9,437.5 543.8,436.3 550.8,435.1 558.9,433.5 566,431.9 574,429.9 581.3,427.9 587.9,425.9 601,421.5 615,416.3 628,411.1 658.4,398.5 674,392.4 681.6,389.7 688.8,387.4 695.2,385.6 700.8,384.4M253.8,41.9 257.1,48.7 260.7,56.7 264.6,66.3 268.9,77.9 292.4,144 315.8,208.7 325.8,237.5 332.7,258.7 339,279.5 345.5,302.7 355.6,341.5 359.2,354.8 363.2,368.3 367.2,379.9 370,386.9 372.8,393.1 375.9,399.1 379.2,404.4 382.6,409.1 386.4,413.5 390.4,417.5 394.8,421.2 399.7,424.7 405.2,428 411.3,431.1 417.6,433.7 424,436 430.8,437.9 438,439.5 445.2,440.7 452.8,441.5 461.2,442.1 470.4,442.4 480.4,442.4 491.2,442.1 502.8,441.4 514.4,440.5 525.6,439.4 534,438.4 541.6,437.3 549.9,435.9 556.8,434.6 564,433.1 572.2,431.1 579.7,429.1 586.6,427.1 599,423.1 613.3,417.9 626.6,412.7 658,400 673.6,394.2 681.2,391.6 688.4,389.4 694.8,387.7 700.8,386.5M252.2,41.9 255.8,49.1 259.4,57.1 263.3,66.7 267.4,77.5 273,93.1 291.6,145.7 315.7,212.3 324.9,238.7 331.9,259.9 338.2,280.7 345,304.7 354.8,341.9 358.4,355.1 362.5,368.7 366.5,380.3 369.3,387.5 372.4,394.2 375.4,399.9 378.6,405.1 382.1,409.9 385.9,414.3 389.9,418.3 394.2,421.9 399.2,425.4 404.7,428.7 410.4,431.6 416.8,434.3 423.2,436.6 429.6,438.4 436.4,439.9 444,441.2 451.6,442.1 460,442.7 469.2,443 478.8,443 489.6,442.7 501.2,442.1 513.2,441.2 524.4,440.1 540.4,438.1 548.4,436.8 555.5,435.5 563.2,433.9 570.2,432.3 578,430.3 585.1,428.3 597.8,424.3 611.5,419.5 625.1,414.3 657.2,401.6 672.4,396.1 680.8,393.3 688,391.2 694.4,389.6 700.8,388.4M250.7,41.9 254.2,48.7 257.9,56.7 261.8,66.3 266.2,77.9 271.9,93.5 289.6,143.9 313.9,210.7 323.8,239.1 330.9,260.7 337.5,281.9 344.2,305.5 354.4,343.6 358,356.6 362,369.9 366,381.3 368.8,388.3 371.7,394.7 374.8,400.6 378,405.8 381.3,410.3 385,414.7 389,418.7 393.3,422.3 398.3,425.9 403.6,429.1 409.2,432 415.6,434.7 422.4,437.1 428.8,439 435.6,440.5 442.8,441.7 450.4,442.6 458.4,443.2 467.2,443.6 476.8,443.6 487.6,443.3 499.2,442.8 511.2,441.9 522.4,440.9 531.2,439.9 539.2,438.8 547.2,437.6 554.5,436.3 562.5,434.7 569.6,433.1 583.4,429.5 596.6,425.5 610.6,420.7 624.5,415.5 656,403.3 672,397.6 680.4,394.9 687.6,392.9 694.4,391.3 700.8,390.1M249.2,41.9 252.8,48.7 256.5,56.7 260.5,66.3 265,77.9 270.6,93.5 289.6,147.6 313.4,213.1 323,240.3 330.2,261.9 336.6,282.7 343.4,306.3 353.6,343.8 357.2,356.7 361.2,369.9 365.2,381.5 368.1,388.7 371.2,395.5 374.1,401.1 377.3,406.3 380.8,411.1 384.4,415.4 388.4,419.3 392.8,423 398,426.7 403.2,429.8 408.9,432.7 415.2,435.4 421.2,437.5 428,439.5 435,441.1 442.4,442.4 450,443.3 458,443.8 466.8,444.2 476.4,444.2 487.2,443.9 498.4,443.4 510,442.6 522,441.5 538.5,439.5 553.4,437.1 561.6,435.5 568.9,433.9 583.1,430.3 596.4,426.3 610.6,421.5 623.7,416.7 654.8,404.9 663.6,401.7 671.6,399 679.6,396.5 687.2,394.4 694.4,392.8 700.8,391.8M247.7,41.9 251.4,48.7 255.4,57.1 259.4,66.7 263.7,77.9 269.8,94.7 289.2,150 313.1,215.5 322.2,241.5 329.3,262.7 335.8,283.5 342.6,306.7 353.2,345.4 356.8,358.1 360.8,371.1 364.8,382.6 367.6,389.5 370.7,396.3 373.7,401.9 376.8,407 380,411.5 383.7,415.9 387.7,419.9 392,423.5 397,427.1 402.4,430.3 408,433.2 414.4,435.9 420.8,438.2 427.2,440 434,441.6 441.2,442.9 448.4,443.7 456.4,444.4 464.8,444.7 474.4,444.8 484.8,444.5 496.4,444 508,443.3 519.6,442.3 536.7,440.3 552.2,437.9 560.6,436.3 568,434.7 574.9,433.1 582.6,431.1 596.2,427.1 609.5,422.7 622.8,417.9 654.4,406.1 670.8,400.5 679.6,397.8 687.2,395.8 694.4,394.2 700.8,393.2M246.3,41.9 250.1,48.7 253.9,56.7 258.1,66.7 262.5,77.9 268.6,94.7 288.8,152.4 312.6,217.5 321.4,242.3 328.6,263.9 335.3,285.1 342.1,308.3 352.4,345.5 356.4,359.4 360.4,372.3 364.4,383.5 367.2,390.6 370.2,397.1 373.2,402.7 376.4,407.9 379.6,412.4 383.3,416.7 387.3,420.7 391.6,424.3 396.4,427.7 401.6,430.8 407.6,433.9 413.6,436.4 420,438.7 426.8,440.7 433.6,442.2 440.8,443.5 448,444.3 456,444.9 464.4,445.3 473.6,445.3 484.1,445.1 495.6,444.6 507.2,443.8 519.2,442.8 536.4,440.9 544.4,439.7 552.4,438.4 559.5,437.1 567.2,435.5 574.1,433.9 582,431.9 595.9,427.9 609.3,423.5 622.9,418.7 654,407.3 663.2,404.1 670.8,401.6 679.6,399 687.2,397.1 694,395.6 700.8,394.6M245.2,42.4 248.9,49.1 253,57.5 257.1,67.1 261.4,78.3 267.8,95.9 288.4,154.7 312.3,219.9 320.9,244.3 328.1,265.5 334.6,285.9 341.4,309.1 352,346.9 355.6,359.4 359.8,372.7 363.7,383.9 366.6,391.1 369.6,397.5 372.5,403.1 375.7,408.3 378.8,412.7 382.5,417.1 386.5,421.1 390.8,424.7 395.6,428.1 400.8,431.3 406.7,434.3 412.8,436.9 418.9,439.1 425.7,441.1 432.6,442.7 439.6,443.9 446.8,444.8 454.4,445.4 462.8,445.8 472,445.9 482.4,445.7 494,445.2 506,444.4 517.3,443.5 526.4,442.6 535.5,441.5 544.1,440.3 551.6,439.1 566.2,436.3 573.3,434.7 581.2,432.7 594.1,429.1 607.9,424.7 621.8,419.9 654.4,408.1 670.4,402.8 678.8,400.4 686.8,398.4 694,396.9 700.8,395.9M245.2,44.7 248.9,51.5 252.7,59.5 256.6,68.7 260.9,79.9 266.9,96.7 280.4,135.4 287.6,155.8 312.1,222.7 321,247.5 327.9,267.9 334.2,287.9 341,310.7 351.6,348.2 355.2,360.5 359.2,373.3 363.2,384.6 366,391.5 369.1,398.3 372.1,403.9 375.2,409.1 378.4,413.5 382.1,417.9 386.1,421.9 390.4,425.5 395.2,428.8 400.4,432 406,434.8 412.3,437.5 418.8,439.8 425.2,441.7 432,443.3 439.2,444.5 446.4,445.4 454,446 462.4,446.3 471.6,446.4 482,446.2 493.6,445.7 505.2,445 517.2,444 534,442.2 550,439.9 565,437.1 572.3,435.5 580.5,433.5 593.6,429.9 607.6,425.5 621.7,420.7 653.6,409.3 662,406.5 670,404 678.4,401.6 686.4,399.6 694,398.1 700.8,397.1M245.2,47 248.7,53.5 252.2,61.1 256,70.3 260.2,81.1 265.8,96.7 279.6,136.4 287.2,157.9 312.2,225.9 321,250.7 327.8,270.7 333.8,289.5 340.3,311.1 350.8,348.1 354.8,361.7 358.8,374.3 362.8,385.5 365.6,392.4 368.7,399.1 371.6,404.7 374.8,409.9 378,414.3 381.6,418.6 385.3,422.3 389.6,425.9 394.4,429.3 399.6,432.4 405.2,435.3 411.3,437.9 418,440.3 424.4,442.2 431.2,443.7 438.4,445 445.6,445.9 452.8,446.5 460.8,446.8 470,446.9 480.4,446.7 491.4,446.3 503.6,445.6 515.2,444.7 533.2,442.8 549.2,440.5 557.5,439.1 564.4,437.8 571.2,436.3 579.6,434.3 592.9,430.7 607.2,426.3 621.5,421.5 654,410.1 670,405 678.8,402.5 686.8,400.5 694,399.1 700.8,398.2M245.2,49.2 248.6,55.9 252.1,63.5 255.7,72.3 259.7,82.7 265.3,98.3 278.8,137.3 286.4,158.8 294.4,180.8 311.8,227.9 321,253.5 327.5,272.7 333.5,291.5 340.1,313.5 354,361.4 358.1,374.3 362.1,385.5 365.1,393.1 368,399.4 371,405.1 374.1,410.3 377.6,415.1 381,419.1 385,423.1 389.2,426.6 394,430 399.3,433.1 404.8,435.9 411.2,438.6 417.6,440.9 424,442.7 430.8,444.3 438,445.6 445.2,446.4 452.8,447 461.2,447.4 470,447.4 480.4,447.2 492,446.7 504,446 515.4,445.1 533.2,443.2 549.2,441 564.4,438.3 571.8,436.7 580.2,434.7 593.6,431.1 608,426.7 621.2,422.3 652.8,411.3 661.6,408.5 669.6,406 678,403.7 686.4,401.6 694,400.2 700.8,399.2M245.2,51.4 248.4,57.9 251.7,65.1 255.1,73.5 258.9,83.5 264.2,98.3 278,138.1 286,160.8 294,182.8 311.3,229.5 319.4,251.9 327.1,274.3 334.2,296.7 340.3,316.7 351.6,355.8 356.8,372.6 360,381.9 362.8,389.3 365.8,396.3 368.8,402.7 371.7,407.9 374.8,412.7 378,416.9 381.6,420.9 385.6,424.7 389.6,427.9 394,430.9 398.8,433.7 404.4,436.5 410.5,439.1 416.8,441.3 423.2,443.2 429.6,444.7 436.4,445.9 443.6,446.8 451.5,447.5M485.8,447.5 497.2,446.9 509.2,446.1 520.3,445.1 531.6,443.9 541.2,442.7 551.6,441.1 560.7,439.5 570.5,437.5 579.2,435.5 587,433.5 595.6,431.1 603.6,428.7 619.6,423.5 654,411.8 662.8,408.9 670.8,406.5 679.6,404.2 686.8,402.5 694,401.1 700.8,400.2M245.2,53.6 248.3,59.9 251.4,67.1 254.7,75.1 258.2,84.3 263.5,99.1 277.6,140.1 285.6,162.7 293.6,184.6 311.5,232.7 320.2,257.1 327.5,278.3 334.3,299.5 340.2,319.1 350.8,355.5 355.6,371 358.4,379.4 360.8,386 363.5,392.7 366,398.5 368.4,403.4 370.8,407.8 373.4,411.9 376,415.6 378.8,419.1 381.8,422.3 384.8,425.1 388.3,427.9 392,430.5 396.2,433.1 400.6,435.5 405.6,437.8 410.7,439.9 416,441.8 421.2,443.3 426.7,444.7M608.1,427.9 621.6,423.5 651.6,413.3 668.4,408.1 677.2,405.7 685.6,403.7 693.6,402.1 700.8,401.1" fill="none" stroke="#000" stroke-width="0.85" stroke-linejoin="round"/><g font-family="'Liberation Mono',monospace" font-size="18" fill="#000"><g stroke="#fff" stroke-width="0.4"><text x="26.6" y="375.7" text-anchor="middle">−3</text><text x="119.0" y="375.7" text-anchor="middle">−2</text><text x="211.4" y="375.7" text-anchor="middle">−1</text><text x="291.4" y="170.4" text-anchor="end">1.5</text><text x="291.4" y="231.9" text-anchor="end">1</text><text x="291.4" y="293.4" text-anchor="end">0.5</text><text x="291.4" y="416.4" text-anchor="end">−0.5</text><text x="291.4" y="477.9" text-anchor="end">−1</text></g><g><text x="396.2" y="375.7" text-anchor="middle">1</text><text x="488.6" y="375.7" text-anchor="middle">2</text><text x="581.0" y="375.7" text-anchor="middle">3</text><text x="673.4" y="375.7" text-anchor="middle">4</text><text x="291.4" y="47.4" text-anchor="end">2.5</text><text x="291.4" y="108.9" text-anchor="end">2</text></g></g><g font-family="'Liberation Serif',serif" font-style="italic" font-size="17.5" fill="#222" stroke="#fff" stroke-width="0.3" text-anchor="middle"><text x="304" y="16.3">&#966;</text><text x="726.7" y="354.5">&#981;</text></g><circle cx="45.3" cy="472.5" r="5.2" fill="#ff0048"/><circle cx="193.1" cy="349.5" r="5.2" fill="#ff9900"/><circle cx="511.5" cy="189.4" r="5.2" fill="#0a0aff"/><circle cx="679.8" cy="287.8" r="5.2" fill="#cc00ff"/><circle cx="691.3" cy="324.5" r="5.2" fill="#80ff00"/><circle cx="691.6" cy="349.1" r="5.2" fill="#00ff66"/><g fill="none" stroke-width="1.10" stroke-linejoin="round" stroke-linecap="round"><path stroke="#ff00ff" d="M679.8,287.8C679.0,287.0 676.6,284.6 674.9,283.0C673.3,281.5 671.7,279.9 670.0,278.4C668.4,276.8 666.7,275.3 665.0,273.7C663.3,272.2 661.6,270.7 659.9,269.2C658.2,267.7 656.5,266.2 654.8,264.7C653.0,263.3 651.3,261.8 649.5,260.4C647.8,258.9 646.0,257.5 644.3,256.1C642.5,254.7 640.7,253.3 638.9,251.9C637.1,250.5 635.3,249.1 633.4,247.8C631.6,246.4 629.8,245.1 627.9,243.8C626.1,242.4 624.2,241.1 622.4,239.9C620.5,238.6 618.6,237.3 616.7,236.0C614.8,234.8 612.9,233.6 611.0,232.3C609.1,231.1 607.2,229.9 605.3,228.7C603.3,227.5 601.4,226.4 599.4,225.2C597.5,224.1 595.5,223.0 593.5,221.8C591.5,220.7 589.6,219.7 587.6,218.6C585.6,217.5 583.6,216.5 581.5,215.4C579.5,214.4 577.5,213.4 575.5,212.4C573.4,211.4 571.4,210.4 569.3,209.5C567.3,208.6 565.2,207.6 563.1,206.7C561.0,205.8 558.9,204.9 556.9,204.1C554.8,203.2 552.7,202.4 550.5,201.6C548.4,200.7 546.3,199.9 544.2,199.2C542.0,198.4 539.9,197.7 537.7,196.9C535.6,196.2 533.4,195.5 531.3,194.8C529.1,194.2 526.9,193.5 524.7,192.9C522.5,192.2 520.3,191.6 518.1,191.1C515.9,190.5 515.3,190.1 511.5,189.4C507.7,188.7 500.0,187.6 495.3,186.9C490.6,186.2 486.3,185.6 483.1,185.3C479.9,185.0 477.6,185.1 476.0,185.2C474.4,185.3 473.9,185.4 473.4,185.8C472.9,186.2 473.0,186.8 473.1,187.5C473.2,188.2 474.0,188.9 474.3,189.8C474.6,190.7 474.9,191.3 475.0,193.0C475.1,194.7 475.1,198.8 475.1,200.0"/><path stroke="#2a2aff" d="M511.5,189.4C508.8,189.2 499.8,188.3 495.0,188.2C490.2,188.1 486.0,188.2 483.0,188.6C480.0,189.0 478.3,189.6 476.8,190.4C475.3,191.2 474.6,192.1 474.2,193.4C473.8,194.7 474.3,197.2 474.3,198.0"/><path stroke="#ff2010" d="M45.3,472.5C56.8,463.9 90.5,438.8 114.3,421.0C138.1,403.2 172.0,377.7 188.0,365.8C204.0,353.9 198.4,358.2 210.5,349.4C222.6,340.6 245.4,323.6 260.4,313.0C275.4,302.4 287.2,295.0 300.6,286.0C314.0,277.0 327.4,267.1 340.8,258.8C354.2,250.5 367.6,243.1 381.0,236.3C394.4,229.5 407.9,223.4 421.3,217.9C434.7,212.4 451.7,206.8 461.5,203.6C471.3,200.4 474.1,200.0 480.0,198.6C485.9,197.2 493.9,195.9 496.7,195.3 L496.7,195.3C495.2,195.9 490.5,197.4 487.8,199.0C485.1,200.6 482.2,202.7 480.3,204.7C478.4,206.7 477.4,208.6 476.6,211.2C475.8,213.8 475.6,211.9 475.3,220.0C475.0,228.1 475.0,240.0 474.9,260.0C474.8,280.0 474.9,326.7 474.9,340.0"/><path stroke="#f0ff20" d="M193.1,349.4C197.6,346.3 209.0,338.6 220.2,331.0C231.4,323.4 247.0,312.8 260.4,303.9C273.8,295.0 287.2,286.2 300.6,277.8C314.0,269.4 327.4,261.1 340.8,253.4C354.2,245.7 367.6,238.0 381.0,231.3C394.4,224.6 407.9,218.4 421.3,213.0C434.7,207.6 452.5,201.8 461.5,198.6C470.5,195.4 470.0,195.7 475.5,194.0C481.0,192.3 491.2,189.6 494.4,188.7 L494.4,188.7C492.3,189.3 485.0,191.2 482.0,192.3C479.0,193.4 477.4,193.7 476.3,195.0C475.2,196.3 475.6,189.2 475.4,200.0C475.2,210.8 475.3,231.4 475.3,260.0C475.3,288.6 475.3,352.8 475.3,371.3"/><path stroke="#2cf52c" d="M691.3,324.5C690.6,323.6 688.4,321.0 687.0,319.3C685.5,317.6 684.1,315.9 682.6,314.3C681.2,312.6 679.8,311.0 678.3,309.4C676.8,307.9 675.4,306.3 673.9,304.8C672.4,303.3 671.0,301.8 669.5,300.3C668.0,298.8 666.5,297.4 665.0,295.9C663.5,294.5 662.0,293.1 660.5,291.7C658.9,290.4 657.4,289.0 655.8,287.6C654.3,286.3 652.7,285.0 651.1,283.7C649.5,282.3 647.9,281.1 646.3,279.8C644.7,278.5 643.1,277.2 641.4,276.0C639.7,274.7 638.1,273.4 636.3,272.2C634.6,271.0 632.9,269.7 631.2,268.5C629.4,267.3 627.6,266.1 625.8,264.9C624.0,263.6 622.2,262.4 620.4,261.3C618.5,260.1 616.7,258.9 614.8,257.8C612.9,256.6 611.0,255.5 609.1,254.4C607.2,253.3 605.2,252.2 603.3,251.1C601.3,250.1 599.3,249.1 597.3,248.1C595.4,247.1 593.4,246.1 591.4,245.2C589.3,244.3 587.3,243.4 585.3,242.6C583.3,241.7 581.2,241.0 579.2,240.2C577.1,239.5 575.0,238.8 573.0,238.1C570.9,237.5 568.8,236.9 566.8,236.4C564.7,235.8 562.6,235.4 560.5,234.9C558.4,234.5 556.3,234.2 554.2,233.9C552.1,233.6 550.0,233.4 548.0,233.3C545.9,233.1 543.8,233.0 541.7,233.0C539.6,233.1 537.5,233.1 535.4,233.3C533.3,233.5 531.3,233.7 529.2,234.0C527.1,234.4 525.1,234.8 523.0,235.3C521.0,235.7 519.0,236.3 517.0,237.0C515.0,237.6 513.0,238.4 511.1,239.2C509.2,240.0 507.3,240.9 505.4,241.8C503.6,242.8 501.8,243.9 500.1,245.0C498.3,246.1 496.6,247.3 495.0,248.6C493.4,249.9 491.8,251.3 490.4,252.7C488.9,254.2 487.5,255.7 486.1,257.3C484.8,258.9 483.5,260.6 482.4,262.3C481.2,264.1 480.2,265.9 479.2,267.8C478.2,269.7 477.4,271.6 476.6,273.7C475.8,275.7 475.1,277.8 474.4,279.9C473.8,282.0 473.2,284.1 472.7,286.3C472.2,288.5 471.8,290.7 471.4,292.9C471.0,295.1 470.7,297.3 470.5,299.6C470.2,301.8 470.0,304.0 469.8,306.2C469.6,308.4 469.4,310.6 469.3,312.7C469.2,314.8 469.1,316.9 469.1,319.0C469.0,321.0 468.9,321.2 468.9,325.0C468.9,328.8 468.8,336.8 469.0,342.0C469.2,347.2 469.8,352.0 470.3,356.0C470.8,360.0 471.5,363.6 472.2,366.0C472.9,368.4 474.0,369.8 474.4,370.6 L475.6,361.0 477.3,345.0 479.1,329.0 478.9,329.4 478.6,330.5 478.3,332.3 477.9,334.8 477.5,337.7 477.1,340.9 476.7,344.3 476.4,347.8 476.1,351.0 475.8,353.9 475.7,356.4 475.6,358.2 475.6,359.3 475.7,359.7 475.9,359.4 476.1,358.7 476.3,357.5 476.5,355.9 476.7,354.0 476.9,351.9 477.0,349.7 477.2,347.5 477.2,345.4 477.3,343.5 477.2,341.9 477.2,340.7 477.1,340.0 476.9,339.7 476.7,339.9 476.5,340.7 476.1,341.8 475.7,343.4 475.3,345.2 474.8,347.3 474.4,349.4 474.0,351.6 473.7,353.7 473.4,355.5 473.3,357.1 473.2,358.2 473.2,359.0 473.3,359.2 473.5,359.0 473.7,358.3 474.0,357.3 474.3,355.9 474.7,354.2 475.0,352.4 475.3,350.4 475.6,348.5 475.8,346.7 476.0,345.0 476.0,343.6 476.1,342.6 476.0,341.9 475.9,341.7 475.7,341.9 475.6,342.5 475.4,343.5 475.2,344.8 475.1,346.4 475.0,348.1 474.9,349.9 474.9,351.8 474.9,353.5 474.9,355.1 475.0,356.4 475.1,357.4 475.2,358.0 475.3,358.2 475.5,358.0 475.7,357.4 476.0,356.5 476.2,355.3 476.5,353.9 476.8,352.3 477.0,350.6 477.2,348.9 477.4,347.3 477.5,345.9 477.6,344.7 477.6,343.8 477.5,343.2 477.4,343.0 477.3,343.2 477.1,343.7 476.8,344.5 476.5,345.6 476.2,346.9 475.8,348.3 475.5,349.8 475.2,351.4 475.0,352.8 474.8,354.1 474.7,355.2 474.6,356.0 474.6,356.5 474.7,356.7 474.9,356.5 475.0,356.1 475.1,355.4 475.3,354.4 475.4,353.2 475.5,351.9 475.6,350.6 475.7,349.2 475.7,347.9 475.7,346.7 475.7,345.7 475.7,345.0 475.6,344.6 475.5,344.4 475.4,344.5 475.2,344.9 475.1,345.6 475.0,346.4 474.9,347.5 474.7,348.6 474.6,349.8 474.6,351.0 474.5,352.1 474.5,353.2 474.5,354.0 474.5,354.7 474.6,355.1 474.7,355.2 474.8,355.1 474.9,354.7 475.1,354.2 475.3,353.4 475.5,352.6 475.8,351.6 476.0,350.6 476.2,349.5 476.4,348.5 476.5,347.7 476.6,346.9 476.6,346.4 476.6,346.0 476.6,345.9 476.5,346.0 476.4,346.3 476.3,346.8 476.1,347.4 476.0,348.1 475.9,349.0 475.8,349.8 475.7,350.7 475.6,351.6 475.5,352.3 475.5,352.9 475.5,353.4 475.6,353.7 475.6,353.8 475.7,353.7 475.7,353.5 475.8,353.1 475.9,352.6 475.9,351.9 476.0,351.2 476.0,350.5 476.0,349.8 476.0,349.1 476.0,348.4 476.0,347.9 476.0,347.5 475.9,347.3 475.9,347.2 475.8,347.3 475.7,347.5 475.6,347.8 475.5,348.2 475.4,348.7 475.3,349.3 475.2,349.9 475.1,350.5 475.0,351.1 475.0,351.6 474.9,352.0 474.9,352.3 474.9,352.5 475.0,352.6 475.0,352.5 475.1,352.4 475.1,352.1 475.2,351.8 475.3,351.4 475.4,351.0 475.5,350.5 475.6,350.0 475.7,349.6 475.7,349.2 475.7,348.9 475.8,348.6 475.8,348.5 475.7,348.4 475.7,348.4 475.7,348.6 475.6,348.7 475.6,349.0 475.6,349.3 475.6,349.6 475.6,349.9 475.5,350.3 475.5,350.6 475.5,350.9 475.5,351.2 475.6,351.3 475.6,351.5 475.6,351.5 475.6,351.5 475.6,351.4 475.7,351.3 475.7,351.1 475.7,350.9 475.8,350.6 475.8,350.4 475.8,350.2 475.8,349.9 475.8,349.7 475.8,349.5 475.8,349.4 475.8,349.3 475.8,349.3 475.8,349.3 475.8,349.4 475.7,349.5 475.7,349.6 475.7,349.7 475.7,349.8 475.6,350.0 475.6,350.2 475.6,350.3 475.5,350.4 475.5,350.5 475.5,350.6 475.5,350.7 475.5,350.7"/><path stroke="#22dcff" d="M691.6,348.9C691.1,348.0 689.5,345.1 688.5,343.3C687.4,341.4 686.4,339.6 685.3,337.8C684.2,336.1 683.0,334.3 681.9,332.6C680.7,330.9 679.6,329.2 678.4,327.5C677.2,325.8 676.0,324.2 674.8,322.6C673.5,321.0 672.3,319.4 671.0,317.8C669.7,316.3 668.4,314.7 667.1,313.2C665.8,311.7 664.5,310.2 663.1,308.8C661.7,307.3 660.3,305.9 658.9,304.5C657.5,303.0 656.1,301.6 654.6,300.3C653.2,298.9 651.7,297.5 650.2,296.2C648.7,294.9 647.1,293.6 645.6,292.3C644.0,291.0 642.5,289.7 640.9,288.4C639.3,287.2 637.6,285.9 636.0,284.7C634.3,283.5 632.7,282.2 631.0,281.1C629.3,279.9 627.5,278.7 625.8,277.5C624.0,276.3 622.3,275.2 620.5,274.1C618.7,273.0 616.9,271.9 615.0,270.8C613.2,269.7 611.3,268.7 609.5,267.7C607.6,266.6 605.7,265.7 603.8,264.7C601.9,263.8 600.0,262.9 598.1,262.0C596.1,261.1 594.2,260.3 592.2,259.5C590.3,258.7 588.3,258.0 586.3,257.3C584.3,256.6 582.4,256.0 580.4,255.4C578.4,254.8 576.4,254.3 574.4,253.8C572.4,253.3 570.4,252.9 568.3,252.6C566.3,252.2 564.3,251.9 562.3,251.7C560.3,251.5 558.3,251.3 556.2,251.2C554.2,251.2 552.2,251.1 550.2,251.2C548.2,251.3 546.2,251.4 544.2,251.6C542.2,251.8 540.2,252.1 538.2,252.5C536.2,252.9 534.2,253.3 532.3,253.8C530.3,254.3 528.4,254.9 526.5,255.5C524.6,256.2 522.7,256.9 520.9,257.7C519.0,258.5 517.2,259.3 515.4,260.2C513.6,261.2 511.9,262.2 510.2,263.2C508.5,264.3 506.8,265.4 505.2,266.6C503.5,267.8 501.9,269.0 500.4,270.4C498.9,271.7 497.4,273.1 496.0,274.5C494.5,276.0 493.2,277.5 491.9,279.1C490.6,280.6 489.3,282.3 488.1,284.0C486.9,285.7 485.8,287.4 484.7,289.2C483.7,291.0 482.7,292.9 481.7,294.7C480.7,296.6 479.9,298.5 479.0,300.5C478.2,302.4 477.4,304.4 476.7,306.4C476.0,308.3 475.3,310.3 474.7,312.4C474.1,314.4 473.5,316.4 473.0,318.4C472.5,320.4 472.0,322.4 471.6,324.4C471.2,326.4 471.3,327.0 470.6,330.4C469.9,333.8 468.0,340.6 467.2,345.0C466.4,349.4 466.0,353.5 465.9,357.0C465.8,360.5 466.2,363.9 466.6,366.0C467.0,368.1 468.0,368.8 468.3,369.3 L470.2,366.0 472.8,357.0 477.8,341.8 481.0,333.0 482.5,329.7 482.2,330.1 481.8,331.2 481.3,332.9 480.7,335.2 480.0,338.0 479.4,341.1 478.7,344.4 478.1,347.7 477.5,350.8 477.1,353.6 476.8,355.9 476.6,357.6 476.6,358.7 476.7,359.1 476.9,358.8 477.2,358.1 477.5,356.8 477.9,355.1 478.2,353.2 478.6,350.9 478.9,348.6 479.1,346.3 479.4,344.0 479.5,342.1 479.5,340.4 479.5,339.1 479.4,338.4 479.3,338.1 479.0,338.4 478.6,339.2 478.1,340.4 477.6,342.1 477.0,344.2 476.4,346.5 475.8,348.9 475.2,351.2 474.8,353.5 474.4,355.6 474.1,357.3 474.0,358.5 474.0,359.3 474.1,359.6 474.3,359.3 474.6,358.6 474.9,357.4 475.1,355.7 475.4,353.8 475.6,351.6 475.8,349.4 475.9,347.1 476.0,344.9 476.1,343.0 476.1,341.3 476.0,340.1 475.9,339.4 475.7,339.1 475.5,339.4 475.2,340.1 474.9,341.3 474.6,342.9 474.4,344.8 474.1,346.9 473.9,349.1 473.8,351.3 473.6,353.4 473.6,355.3 473.6,356.9 473.7,358.1 473.8,358.8 474.0,359.1 474.2,358.9 474.6,358.2 475.1,357.0 475.6,355.5 476.1,353.7 476.7,351.7 477.3,349.6 477.8,347.5 478.2,345.5 478.6,343.7 478.8,342.2 479.0,341.0 478.9,340.3 478.8,340.1 478.6,340.3 478.3,341.0 478.0,342.1 477.7,343.5 477.4,345.3 477.2,347.2 476.9,349.2 476.7,351.3 476.6,353.2 476.5,355.0 476.5,356.4 476.6,357.5 476.7,358.2 476.8,358.4 477.1,358.2 477.3,357.5 477.5,356.5 477.7,355.2 477.9,353.5 478.0,351.7 478.1,349.8 478.2,347.9 478.2,346.1 478.2,344.4 478.1,343.1 478.0,342.1 477.8,341.4 477.6,341.2 477.4,341.4 477.0,342.0 476.6,343.0 476.2,344.2 475.7,345.8 475.2,347.5 474.7,349.3 474.3,351.1 474.0,352.8 473.7,354.4 473.5,355.6 473.4,356.6 473.5,357.2 473.6,357.4 473.8,357.2 474.1,356.7 474.4,355.8 474.7,354.6 475.0,353.2 475.3,351.6 475.6,349.9 475.8,348.2 476.0,346.6 476.1,345.2 476.2,344.0 476.2,343.1 476.1,342.6 475.9,342.4 475.7,342.6 475.6,343.1 475.4,343.9 475.3,345.0 475.2,346.3 475.1,347.8 475.0,349.3 475.0,350.8 475.0,352.3 475.1,353.6 475.2,354.7 475.3,355.5 475.4,356.0 475.6,356.2 475.8,356.0 476.0,355.6 476.3,354.8 476.6,353.8 477.0,352.6 477.3,351.3 477.6,349.9 477.9,348.5 478.2,347.2 478.4,346.0 478.5,345.0 478.5,344.2 478.5,343.8 478.3,343.6 478.2,343.7 478.0,344.2 477.7,344.8 477.5,345.7 477.2,346.8 476.9,348.0 476.6,349.3 476.4,350.6 476.2,351.8 476.1,352.9 476.0,353.8 476.0,354.4 476.0,354.9 476.1,355.0 476.2,354.9 476.4,354.5 476.5,353.9 476.6,353.1 476.7,352.1 476.7,351.0 476.7,349.9 476.8,348.8 476.7,347.7 476.7,346.7 476.6,345.9 476.5,345.3 476.4,344.9 476.3,344.8 476.2,344.9 476.0,345.2 475.8,345.8 475.6,346.5 475.4,347.3 475.2,348.3 475.0,349.3 474.9,350.3 474.7,351.3 474.6,352.1 474.6,352.8 474.6,353.4 474.6,353.7 474.7,353.8 474.8,353.7 475.0,353.4 475.1,352.9 475.3,352.3 475.6,351.6 475.8,350.8 476.0,349.9 476.2,349.0 476.4,348.2 476.5,347.5 476.6,346.9 476.6,346.4 476.6,346.1 476.5,346.0 476.4,346.1 476.3,346.3 476.3,346.7 476.2,347.2 476.1,347.9 476.1,348.6 476.1,349.3 476.1,350.0 476.1,350.7 476.1,351.4 476.1,351.9 476.2,352.3 476.2,352.5 476.3,352.6 476.4,352.5 476.5,352.3 476.6,352.0 476.7,351.6 476.8,351.0 476.9,350.5 477.0,349.9 477.0,349.2 477.1,348.7 477.1,348.1 477.1,347.7 477.1,347.4 477.1,347.2 477.0,347.1 477.0,347.2 476.9,347.3 476.8,347.6 476.6,347.9 476.5,348.4 476.4,348.8 476.2,349.4 476.1,349.9 476.0,350.3 475.9,350.8 475.9,351.1 475.8,351.4 475.8,351.5 475.9,351.6 475.9,351.6 476.0,351.4 476.0,351.2 476.1,350.9 476.1,350.6 476.1,350.2 476.2,349.9 476.2,349.5 476.2,349.1 476.2,348.8 476.2,348.5 476.2,348.3 476.1,348.1 476.1,348.1 476.1,348.1 476.0,348.2 476.0,348.4 476.0,348.6 475.9,348.8 475.9,349.1 475.9,349.4 475.8,349.7 475.8,350.0 475.8,350.2 475.8,350.4 475.8,350.6 475.9,350.7 475.9,350.7 475.9,350.7 475.9,350.6 476.0,350.5 476.0,350.4 476.1,350.2 476.1,350.0 476.2,349.8 476.3,349.6 476.3,349.4 476.3,349.2 476.4,349.1 476.4,349.0 476.4,348.9 476.4,348.9 476.4,348.9 476.3,349.0 476.3,349.0 476.3,349.1 476.3,349.2 476.3,349.3 476.3,349.4 476.2,349.6 476.2,349.7 476.2,349.8 476.2,349.9 476.2,349.9 476.2,350.0 476.2,350.0"/></g></svg></body></html>
